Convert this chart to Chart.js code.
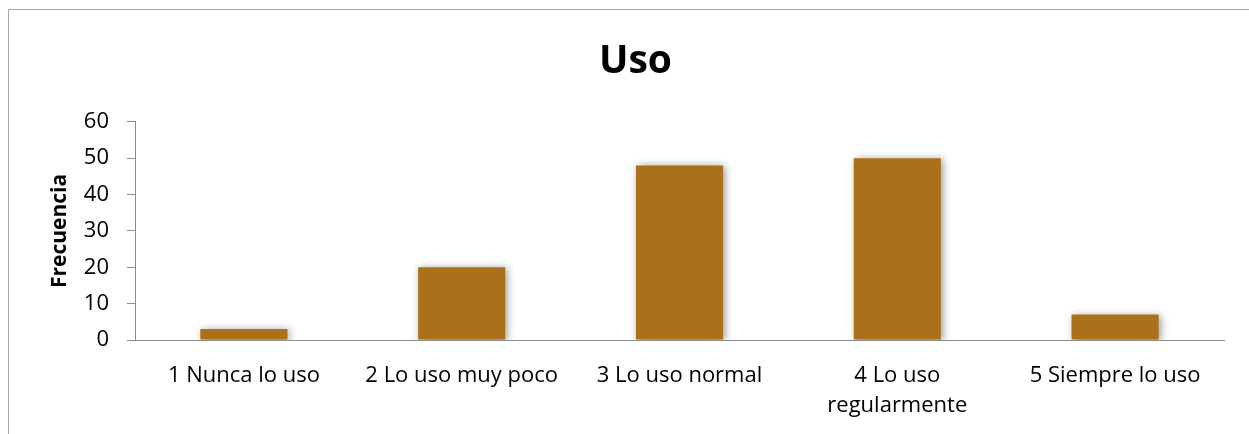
<!DOCTYPE html>
<html>
<head>
<meta charset="utf-8">
<script src="https://cdn.jsdelivr.net/npm/chart.js@4"></script>
<style>
  html, body { margin: 0; padding: 0; background: #fff; overflow: hidden; width: 1249px; height: 434px; }
  #frame { position: absolute; left: 8px; top: 9px; width: 1300px; height: 500px; border: 1px solid #a6a6a6; box-sizing: border-box; }
  #wrap { position: absolute; left: 9px; top: 10px; width: 1245px; height: 424px; }
</style>
</head>
<body>
<div id="frame"></div>
<div id="wrap"><canvas id="c"></canvas></div>
<script>
const chartTitle = 'Uso';
const yAxisTitle = 'Frecuencia';
const categories = [
  '1 Nunca lo uso',
  '2 Lo uso muy poco',
  '3 Lo uso normal',
  ['4 Lo uso', 'regularmente'],
  '5 Siempre lo uso'
];
const frecuencia = [3, 20, 48, 50, 7];
const yMin = 0, yMax = 60, yStep = 10;

const shadowPlugin = {
  id: 'barShadow',
  beforeDatasetDraw(chart) {
    const ctx = chart.ctx;
    ctx.save();
    ctx.shadowColor = 'rgba(0,0,0,0.4)';
    ctx.shadowBlur = 8;
    ctx.shadowOffsetX = 2;
    ctx.shadowOffsetY = 1;
  },
  afterDatasetDraw(chart) {
    chart.ctx.restore();
  }
};

new Chart(document.getElementById('c'), {
  type: 'bar',
  data: {
    labels: categories,
    datasets: [{
      label: yAxisTitle,
      data: frecuencia,
      backgroundColor: '#AB711A',
      borderWidth: 0,
      barPercentage: 0.4,
      categoryPercentage: 1.0
    }]
  },
  plugins: [shadowPlugin],
  options: {
    responsive: true,
    maintainAspectRatio: false,
    animation: false,
    layout: { padding: { left: 38, right: 30, top: 0, bottom: 0 } },
    plugins: {
      legend: { display: false },
      tooltip: { enabled: false },
      title: {
        display: true,
        text: chartTitle,
        color: '#000',
        font: { family: 'Open Sans', size: 39, weight: 'bold' },
        padding: { top: 28, bottom: 37 }
      }
    },
    scales: {
      x: {
        grid: { display: false },
        border: { display: true, color: '#8c8c8c', width: 1 },
        ticks: {
          color: '#000',
          font: { family: 'Open Sans', size: 22, lineHeight: 1.4 },
          padding: 12,
          maxRotation: 0,
          autoSkip: false
        },
        afterFit(scale) { scale.height = 94; }
      },
      y: {
        min: yMin,
        max: yMax,
        grid: { drawOnChartArea: false, drawTicks: true, tickLength: 8, color: '#8c8c8c' },
        border: { display: true, color: '#8c8c8c', width: 1 },
        ticks: {
          stepSize: yStep,
          color: '#000',
          padding: 18,
          font: { family: 'Open Sans', size: 22 }
        },
        title: {
          display: true,
          text: yAxisTitle,
          color: '#000',
          font: { family: 'Open Sans', size: 21, weight: 'bold' },
          padding: 0
        },
        afterFit(scale) { scale.width = 88; }
      }
    }
  }
});
</script>
</body>
</html>
